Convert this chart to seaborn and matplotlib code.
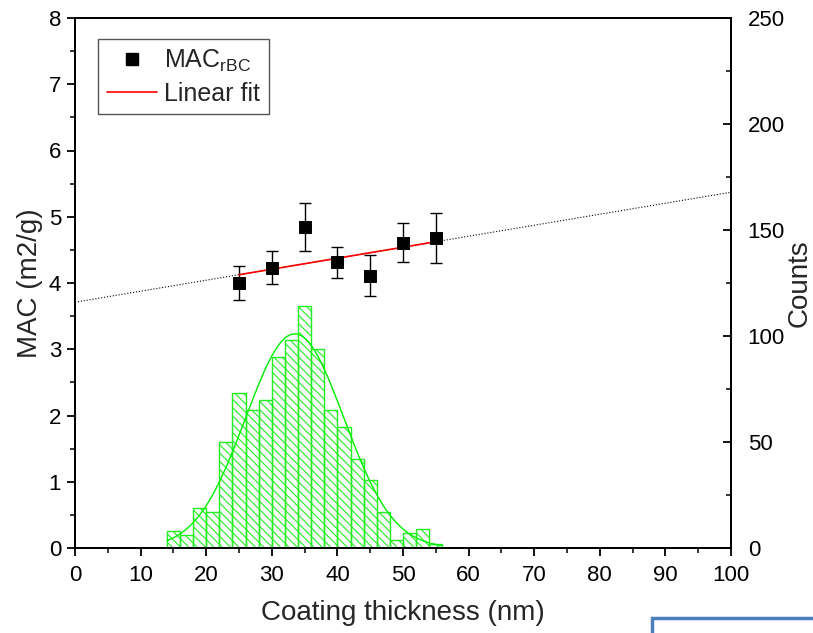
import numpy as np
import pandas as pd
import matplotlib
matplotlib.use('Agg')
import matplotlib.pyplot as plt
import seaborn as sns
from matplotlib.patches import Rectangle
from matplotlib.lines import Line2D
from matplotlib.ticker import MultipleLocator

# MAC points (left axis)
thickness = [25, 30, 35, 40, 45, 50, 55]
mac = [4.00, 4.23, 4.85, 4.31, 4.11, 4.61, 4.68]
mac_err = [0.26, 0.25, 0.36, 0.23, 0.31, 0.30, 0.38]

# linear fit
fit_intercept = 3.71
fit_slope = 0.0166

# histogram of coating thickness (right axis)
bin_edges = list(range(14, 58, 2))
counts = [8, 6, 19, 17, 50, 73, 65, 70, 90, 98, 114, 94, 65, 57, 42, 32, 17, 4, 7, 9, 2]

# gaussian fit of the histogram
gauss_mean = 33.5
gauss_sigma = 7.5
gauss_peak = 101

sns.set_style('ticks')
plt.rcParams['font.family'] = ['Liberation Sans', 'DejaVu Sans']
plt.rcParams['mathtext.fontset'] = 'custom'
plt.rcParams['mathtext.rm'] = 'Liberation Sans'
plt.rcParams['mathtext.it'] = 'Liberation Sans'
plt.rcParams['hatch.linewidth'] = 0.8

fig = plt.figure(figsize=(8.13, 6.33), dpi=100)
ax = fig.add_axes([75 / 813, 1 - 548 / 633, 656 / 813, 530 / 633])
ax2 = ax.twinx()

# histogram
centers = [(a + b) / 2 for a, b in zip(bin_edges[:-1], bin_edges[1:])]
hist_df = pd.DataFrame({'thickness': centers, 'count': counts})
sns.histplot(data=hist_df, x='thickness', weights='count', bins=bin_edges,
             ax=ax2, fill=False, color='#00ee00', linewidth=1.0)
for p in ax2.patches:
    p.set_hatch('\\\\\\\\')
    p.set_edgecolor('#22ee22')

xs = np.linspace(bin_edges[0], bin_edges[-1], 200)
gauss_df = pd.DataFrame({'x': xs, 'y': gauss_peak * np.exp(-0.5 * ((xs - gauss_mean) / gauss_sigma) ** 2)})
sns.lineplot(data=gauss_df, x='x', y='y', ax=ax2, color='#00ee00', linewidth=1.0)

# MAC points and fits
line_x = np.array([0, 100])
ax.plot(line_x, fit_intercept + fit_slope * line_x, color='black', linestyle=':', linewidth=0.8)
fit_x = np.array([25, 55])
ax.plot(fit_x, fit_intercept + fit_slope * fit_x, color='red', linewidth=1.2, zorder=3)
ax.errorbar(thickness, mac, yerr=mac_err, fmt='none', ecolor='black', elinewidth=1,
            capsize=4, capthick=1, zorder=2)
sns.scatterplot(x=thickness, y=mac, ax=ax, marker='s', color='black', s=72,
                edgecolor='black', zorder=4)

ax.set_zorder(ax2.get_zorder() + 1)
ax.patch.set_visible(False)

ax.set_xlim(0, 100)
ax.set_ylim(0, 8)
ax2.set_ylim(0, 250)
ax.xaxis.set_major_locator(MultipleLocator(10))
ax.xaxis.set_minor_locator(MultipleLocator(5))
ax.yaxis.set_major_locator(MultipleLocator(1))
ax.yaxis.set_minor_locator(MultipleLocator(0.5))
ax2.yaxis.set_major_locator(MultipleLocator(50))
ax2.yaxis.set_minor_locator(MultipleLocator(25))

ax.tick_params(axis='both', which='major', direction='out', length=6, width=1.3,
               labelsize=16, colors='black', pad=4)
ax.tick_params(axis='x', which='major', pad=6)
ax.tick_params(axis='both', which='minor', direction='out', length=3.5, width=1.3)
ax2.tick_params(axis='y', which='major', direction='in', length=6, width=1.3,
                labelsize=16, colors='black', pad=12)
ax2.tick_params(axis='y', which='minor', direction='in', length=3.5, width=1.3)
ax2.tick_params(axis='x', which='both', top=False, bottom=False)

for a in (ax, ax2):
    for s in a.spines.values():
        s.set_linewidth(1.3)
        s.set_color('black')
        s.set_visible(True)

ax.set_xlabel('Coating thickness (nm)', fontsize=20, labelpad=10)
ax.set_ylabel('MAC (m2/g)', fontsize=20, labelpad=4)
ax2.set_ylabel('Counts', fontsize=20, labelpad=1)
ax2.set_xlabel('')

handles = [
    Line2D([], [], marker='s', color='black', linestyle='none', markersize=8.5),
    Line2D([], [], color='red', linewidth=1.2),
]
leg = ax.legend(handles, ['MAC$_{\\mathrm{rBC}}$', 'Linear fit'], loc='upper left',
                bbox_to_anchor=(0.035, 0.96), fontsize=18, frameon=True, fancybox=False,
                framealpha=1, edgecolor='#555555', handlelength=2.0, handletextpad=0.3,
                borderpad=0.35, labelspacing=0.3, borderaxespad=0)
leg.get_frame().set_linewidth(1.0)

# blue box fragment at lower right corner of the image
fig.patches.append(Rectangle((652 / 813, -0.05), 0.3, (633 - 618) / 633 + 0.05,
                             transform=fig.transFigure, fill=False,
                             edgecolor='#4a7ebb', linewidth=2.5, figure=fig))

fig.savefig('out.png', dpi=100)
